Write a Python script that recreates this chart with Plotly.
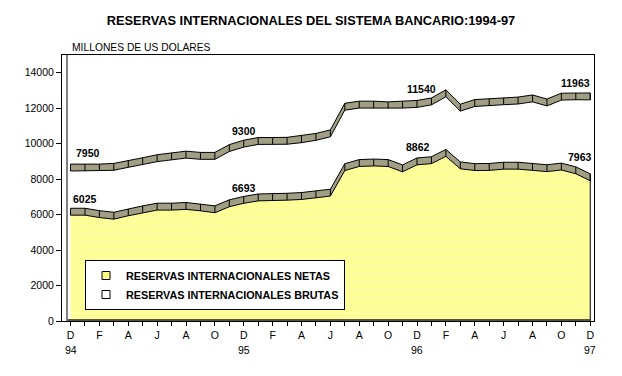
import plotly.graph_objects as go

# ---------------- data ----------------
month_index = list(range(37))
tick_labels = ["D", "", "F", "", "A", "", "J", "", "A", "", "O", "",
               "D", "", "F", "", "A", "", "J", "", "A", "", "O", "",
               "D", "", "F", "", "A", "", "J", "", "A", "", "O", "",
               "D"]
year_labels = ["94", "95", "96", "97"]
year_pos = [0, 12, 24, 36]
y_tick_vals = [0, 2000, 4000, 6000, 8000, 10000, 12000, 14000]
y_tick_text = ["0", "2000", "4000", "6000", "8000", "10000", "12000", "14000"]

netas = [6025, 6025, 5890, 5800, 5990, 6160, 6310, 6310, 6350, 6270, 6160, 6500,
         6693, 6830, 6830, 6870, 6910, 7000, 7100, 8540, 8770, 8800, 8770, 8470,
         8862, 8930, 9340, 8640, 8540, 8550, 8620, 8620, 8570, 8480, 8570, 8360,
         7963]
brutas = [7950, 7950, 7950, 7990, 8160, 8310, 8480, 8580, 8680, 8610, 8610, 9050,
          9300, 9450, 9450, 9460, 9550, 9680, 9880, 11380, 11500, 11500, 11460, 11500,
          11540, 11680, 12140, 11330, 11590, 11620, 11690, 11730, 11850, 11620, 11950, 11970,
          11963]
label_pos = [0, 12, 24, 36]

name_netas = "RESERVAS INTERNACIONALES NETAS"
name_brutas = "RESERVAS INTERNACIONALES BRUTAS"
title_text = "RESERVAS INTERNACIONALES DEL SISTEMA BANCARIO:1994-97"
unit_text = "MILLONES DE US DOLARES"

# ---------------- style ----------------
OFF = 8                      # page body margin
W, H = 622 - OFF, 376 - OFF
ML, MR, MT, MB = 62 - OFF, 28, 55 - OFF, 55
PW, PH = W - ML - MR, H - MT - MB
YMAX = 15000
UNITS_PER_PX = YMAX / PH
DEPTH_PX = 10                      # back series drawn one "depth" higher
depth_units = DEPTH_PX * UNITS_PER_PX
rib_lo, rib_hi = -1 * UNITS_PER_PX, 5.9 * UNITS_PER_PX   # ribbon thickness
RIBBON = "#a09e84"
FONT = "Liberation Sans, Arial, sans-serif"

netas_lbl_shift = [(14, 15), (0, 14), (1, 17), (-10, 23)]
brutas_lbl_shift = [(17, 17), (0, 15), (4, 17), (-15, 16)]


def ribbon(vals, yaxis):
    xs = month_index + month_index[::-1]
    ys = [v + rib_lo for v in vals] + [v + rib_hi for v in vals][::-1]
    poly = go.Scatter(x=xs, y=ys, yaxis=yaxis, mode="lines", fill="toself",
                      fillcolor=RIBBON, line=dict(color="black", width=1),
                      showlegend=False, hoverinfo="skip")
    dx, dy = [], []
    for i, v in zip(month_index, vals):
        dx += [i, i, None]
        dy += [v + rib_lo, v + rib_hi, None]
    div = go.Scatter(x=dx, y=dy, yaxis=yaxis, mode="lines",
                     line=dict(color="black", width=1),
                     showlegend=False, hoverinfo="skip")
    return [poly, div]


fig = go.Figure()

# yellow area of NETAS
fig.add_trace(go.Scatter(
    x=month_index + [month_index[-1], month_index[0]],
    y=netas + [0, 0], mode="lines", fill="toself",
    fillcolor="#ffff99",
    fillpattern=dict(shape=".", bgcolor="#ffff88", fgcolor="#ffffe0",
                     size=4, solidity=0.4),
    line=dict(color="black", width=1), showlegend=False, hoverinfo="skip"))

for tr in ribbon(netas, "y"):
    fig.add_trace(tr)
for tr in ribbon(brutas, "y2"):
    fig.add_trace(tr)

# legend entries
fig.add_trace(go.Scatter(x=[None], y=[None], mode="markers", name=name_netas,
                         legendgroup="n",
                         marker=dict(symbol="square", size=8, color="#ffff88",
                                     line=dict(color="black", width=1))))
fig.add_trace(go.Scatter(x=[None], y=[None], mode="markers", name=name_brutas,
                         legendgroup="b",
                         marker=dict(symbol="square", size=8, color="white",
                                     line=dict(color="black", width=1))))

annotations = []
for k, i in enumerate(label_pos):
    xs, ys = netas_lbl_shift[k]
    annotations.append(dict(x=i, y=netas[i], xref="x", yref="y", text=f"{netas[i]}",
                            showarrow=False, xshift=xs, yshift=ys,
                            font=dict(family=FONT, size=10.5, color="black", weight="bold")))
    xs, ys = brutas_lbl_shift[k]
    annotations.append(dict(x=i, y=brutas[i], xref="x", yref="y2", text=f"{brutas[i]}",
                            showarrow=False, xshift=xs, yshift=ys,
                            font=dict(family=FONT, size=10.5, color="black", weight="bold")))
for lab, p in zip(year_labels, year_pos):
    annotations.append(dict(x=p, y=0, xref="x", yref="y", text=lab, showarrow=False,
                            yshift=-29, yanchor="middle",
                            font=dict(family=FONT, size=10.5, color="black")))
annotations.append(dict(x=(70 - 62) / PW, y=(321 - 47) / PH, xref="paper", yref="paper",
                        text=unit_text, showarrow=False, xanchor="left", yanchor="middle",
                        font=dict(family=FONT, size=10.3, color="black")))

shapes = [
    # inner wall line
    dict(type="line", xref="paper", yref="paper", x0=5 / PW, x1=5 / PW, y0=0, y1=1,
         line=dict(color="black", width=1)),
    # dark floor strip
    dict(type="rect", xref="x", yref="y", x0=-0.2, x1=36, y0=0, y1=2 * UNITS_PER_PX,
         fillcolor="#55553b", line=dict(width=0), layer="above"),
]

fig.update_layout(
    width=W, height=H,
    margin=dict(l=ML, r=MR, t=MT, b=MB),
    paper_bgcolor="white", plot_bgcolor="white",
    font=dict(family=FONT, size=10.5, color="black"),
    title=dict(text=title_text, x=(311 - OFF) / W, xref="container", xanchor="center",
               y=1 - (21 - OFF) / H, yref="container", yanchor="middle",
               font=dict(family=FONT, size=12.8, color="black", weight="bold")),
    xaxis=dict(range=[-0.59, 36.26], tickmode="array", tickvals=month_index,
               ticktext=tick_labels, ticks="outside", ticklen=4, tickcolor="black",
               showline=True, linecolor="black", linewidth=1, mirror=True,
               showgrid=False, zeroline=False, tickfont=dict(size=10.5)),
    yaxis=dict(range=[0, YMAX], tickmode="array",
               tickvals=y_tick_vals, ticktext=y_tick_text,
               ticks="outside", ticklen=5, tickcolor="black",
               showline=True, linecolor="black", linewidth=1, mirror=True,
               showgrid=False, zeroline=False, tickfont=dict(size=10.5)),
    yaxis2=dict(range=[-depth_units, YMAX - depth_units], overlaying="y",
                visible=False, showgrid=False, zeroline=False),
    legend=dict(x=(85 - 62) / PW, y=(321 - 260) / PH, xanchor="left", yanchor="top",
                bgcolor="white", bordercolor="black", borderwidth=1,
                font=dict(family=FONT, size=10.8, color="black", weight="bold"),
                traceorder="grouped", tracegroupgap=0),
    annotations=annotations, shapes=shapes,
    showlegend=True,
)

fig.write_html("out.html")
